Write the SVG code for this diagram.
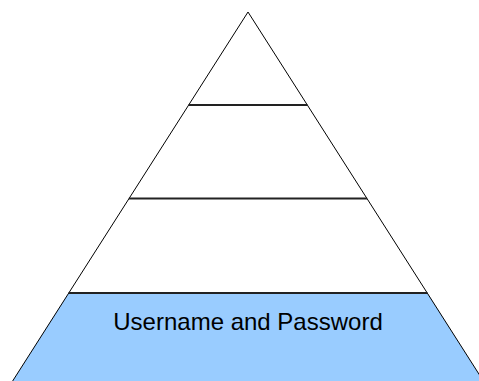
<svg xmlns="http://www.w3.org/2000/svg" width="479" height="381" viewBox="0 0 479 381">
<style>
.lvl{stroke:none}
.edge{fill:none;stroke:#000;stroke-width:1}
.div{stroke:#222;stroke-width:1.8;fill:none}
.lbl{font-family:"Liberation Sans",Arial,sans-serif;font-size:24px;fill:#000;text-anchor:middle}
</style>
<rect width="479" height="381" fill="#fff"/>
<g id="level1"><polygon class="lvl" fill="#fff" points="248,12 307.4,105 188.6,105"/></g>
<g id="level2"><polygon class="lvl" fill="#fff" points="188.6,105 307.4,105 367.1,198.5 128.9,198.5"/></g>
<g id="level3"><polygon class="lvl" fill="#fff" points="128.9,198.5 367.1,198.5 427.4,293 68.6,293"/></g>
<g id="level4"><polygon class="lvl" fill="#99CCFF" points="68.6,293 427.4,293 484,382 12,382"/>
<text class="lbl" x="248" y="330">Username and Password</text></g>
<g id="connectors">
<polyline class="edge" points="12,382 248,12 484,382"/>
<line class="div" x1="188.6" y1="105" x2="307.4" y2="105"/>
<line class="div" x1="128.9" y1="198.5" x2="367.1" y2="198.5"/>
<line class="div" x1="68.6" y1="293" x2="427.4" y2="293"/>
</g>
</svg>
